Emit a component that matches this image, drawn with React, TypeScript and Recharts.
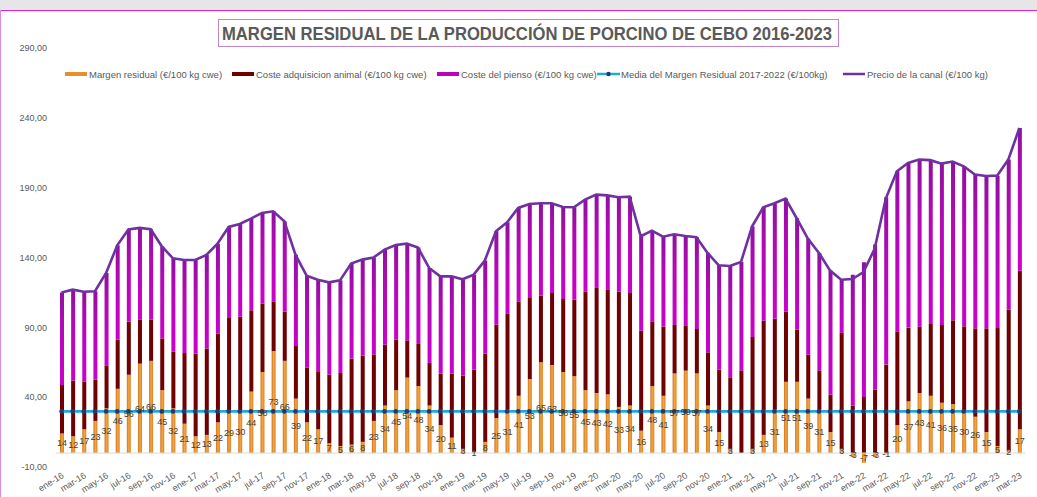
import React from 'react';
import { ComposedChart, Bar, Line, XAxis, YAxis, LabelList, ReferenceLine } from 'recharts';

const meses = [
  'ene-16','feb-16','mar-16','abr-16','may-16','jun-16','jul-16','ago-16','sep-16','oct-16','nov-16','dic-16',
  'ene-17','feb-17','mar-17','abr-17','may-17','jun-17','jul-17','ago-17','sep-17','oct-17','nov-17','dic-17',
  'ene-18','feb-18','mar-18','abr-18','may-18','jun-18','jul-18','ago-18','sep-18','oct-18','nov-18','dic-18',
  'ene-19','feb-19','mar-19','abr-19','may-19','jun-19','jul-19','ago-19','sep-19','oct-19','nov-19','dic-19',
  'ene-20','feb-20','mar-20','abr-20','may-20','jun-20','jul-20','ago-20','sep-20','oct-20','nov-20','dic-20',
  'ene-21','feb-21','mar-21','abr-21','may-21','jun-21','jul-21','ago-21','sep-21','oct-21','nov-21','dic-21',
  'ene-22','feb-22','mar-22','abr-22','may-22','jun-22','jul-22','ago-22','sep-22','oct-22','nov-22','dic-22',
  'ene-23','feb-23','mar-23',
];

const margen = [
  14,12,17,23,32,46,56,64,66,45,
  32,21,12,13,22,29,30,44,58,73,
  66,39,22,17,7,5,6,8,23,34,
  45,54,48,34,20,11,3,1,8,25,
  31,41,53,65,63,58,55,45,43,42,
  33,34,16,48,41,57,59,57,34,15,
  3,0,3,13,31,51,51,39,31,15,
  3,-3,-7,-3,-1,20,37,43,41,36,
  35,30,26,15,5,2,17,
];

const costeAnimal = [
  34.7,39.8,34.3,29.5,30.8,35.2,38.1,31.7,29.5,37.1,
  40.6,50.6,59.1,61.9,63.5,67.7,67.6,58.2,48.9,35.6,
  35.2,37.6,39.3,41.0,49.1,52.3,61.6,61.7,47.6,43.6,
  36.2,26.7,30.1,30.5,36.8,45.8,52.4,58.7,63.1,66.9,
  68.6,67.6,58.0,47.7,51.6,52.3,54.8,70.5,75.2,74.8,
  82.5,80.6,71.6,46.3,49.5,34.7,32.0,31.8,38.1,44.7,
  51.2,59.2,80.1,81.8,65.2,50.2,37.3,31.4,28.2,26.8,
  83.0,33.9,40.1,45.3,63.3,67.1,52.8,47.5,51.4,55.7,
  60.0,60.7,63.3,74.3,84.5,100.7,113.6,
];

const costePienso = [
  66.3,65.2,64.2,63.3,66.1,67.5,65.9,65.5,64.7,65.9,
  66.8,66.6,67.1,66.9,64.4,65.2,66.4,65.6,65.0,64.5,
  64.7,65.4,65.7,66.1,66.1,66.3,68.0,68.8,69.3,68.0,
  67.8,69.2,69.0,68.0,69.7,69.7,69.0,68.0,66.7,66.9,
  65.6,66.9,67.3,66.1,64.2,65.9,66.2,65.9,66.8,67.7,
  67.6,69.0,67.6,64.9,64.4,64.9,64.4,65.7,71.2,74.7,
  79.7,77.6,79.2,81.1,82.6,81.0,79.8,83.1,84.1,88.8,
  38.1,93.7,96.5,104.0,119.9,114.6,117.9,119.6,117.3,115.5,
  113.7,114.6,110.1,109.1,109.1,107.4,102.2,
];

const precioCanal = [
  115.0,117.0,115.5,115.8,128.9,148.7,160.0,161.2,160.2,148.0,
  139.4,138.2,138.2,141.8,149.9,161.9,164.0,167.8,171.9,173.1,
  165.9,142.0,127.0,124.1,122.2,123.6,135.6,138.5,139.9,145.6,
  149.0,149.9,147.1,132.5,126.5,126.5,124.4,127.7,137.8,158.8,
  165.2,175.5,178.3,178.8,178.8,176.2,176.0,181.4,185.0,184.5,
  183.1,183.6,155.2,159.2,154.9,156.6,155.4,154.5,143.3,134.4,
  133.9,136.8,162.3,175.9,178.8,182.2,168.1,153.5,143.3,130.6,
  124.1,124.6,129.6,146.3,182.2,201.7,207.7,210.1,209.7,207.2,
  208.7,205.3,199.4,198.4,198.6,210.1,232.8,
];

const mediaMargen = 29.8;

const yTicks = [-10, 40, 90, 140, 190, 240, 290];

const titulo = 'MARGEN RESIDUAL DE LA PRODUCCIÓN DE PORCINO DE CEBO 2016-2023';

const legendItems = [
  { x: 65, kind: 'rect', color: '#E88F2C', text: 'Margen residual (€/100 kg cwe)' },
  { x: 232, kind: 'rect', color: '#700000', text: 'Coste adquisicion animal (€/100 kg cwe)' },
  { x: 437, kind: 'rect', color: '#BC00BC', text: 'Coste del pienso (€/100 kg cwe)' },
  { x: 597, kind: 'dot', color: '#22A8DC', text: 'Media del Margen Residual 2017-2022  (€/100kg)' },
  { x: 843, kind: 'line', color: '#7030A0', text: 'Precio de la canal (€/100 kg)' },
];

const data = meses.map((mes, i) => ({
  mes,
  margen: margen[i],
  animal: costeAnimal[i],
  pienso: costePienso[i],
  precio: precioCanal[i],
  media: mediaMargen,
}));

const FONT = '"Liberation Sans", Arial, sans-serif';

const XTick = (props: any) => {
  const { x, y, payload } = props;
  return (
    <g transform={`translate(${x + 3},${y + 10})`}>
      <text x={0} y={0} textAnchor="end" transform="rotate(-32)" fontSize={9} fill="#595959" fontFamily={FONT}>
        {payload.value}
      </text>
    </g>
  );
};

const MediaDot = (props: any) => {
  const { cx, cy, index } = props;
  if (cx == null || cy == null) return <g key={`d${index}`} />;
  return <circle key={`d${index}`} cx={cx} cy={cy} r={2.3} fill="#1F3A6E" />;
};

export default function App() {
  return (
    <div style={{ position: 'fixed', left: 0, top: 0, width: 1037, height: 497, background: '#ffffff', overflow: 'hidden' }}>
      <div style={{ position: 'absolute', left: 0, top: 0, width: 1037, height: 10, background: '#E6E6E6' }} />
      <div style={{ position: 'absolute', left: 0, top: 10, width: 1037, height: 1, background: '#E020E0' }} />
      <div style={{ position: 'absolute', left: 0, top: 10, width: 1, height: 487, background: '#D58BE5' }} />
      <div style={{ position: 'absolute', left: 0, top: 0 }}>
        <ComposedChart
          width={1037}
          height={497}
          data={data}
          stackOffset="sign"
          margin={{ top: 48, right: 12, bottom: 0, left: 0 }}
          barSize={4}
        >
          <defs>
            <linearGradient id="gOrange" x1="0" y1="0" x2="1" y2="0">
              <stop offset="0%" stopColor="#D27418" />
              <stop offset="50%" stopColor="#F4A444" />
              <stop offset="100%" stopColor="#DB8220" />
            </linearGradient>
            <linearGradient id="gRed" x1="0" y1="0" x2="1" y2="0">
              <stop offset="0%" stopColor="#660000" />
              <stop offset="50%" stopColor="#780000" />
              <stop offset="100%" stopColor="#660000" />
            </linearGradient>
            <linearGradient id="gMag" x1="0" y1="0" x2="0" y2="1">
              <stop offset="0%" stopColor="#9010A0" />
              <stop offset="35%" stopColor="#B408B8" />
              <stop offset="100%" stopColor="#CC00CC" />
            </linearGradient>
          </defs>
          <XAxis
            dataKey="mes"
            interval={1}
            tickLine={false}
            axisLine={false}
            tickSize={0}
            tickMargin={0}
            height={30}
            tick={<XTick />}
          />
          <YAxis
            domain={[-10, 290]}
            ticks={yTicks}
            interval={0}
            width={56}
            tickLine={false}
            axisLine={false}
            tickSize={0}
            tickMargin={9}
            tick={{ fontSize: 9, fill: '#595959', fontFamily: FONT }}
            tickFormatter={(v: number) => v.toFixed(2).replace('.', ',')}
          />
          <ReferenceLine y={0} stroke="#D9D9D9" strokeWidth={1} />
          <Bar dataKey="margen" stackId="a" fill="url(#gOrange)" isAnimationActive={false}>
            <LabelList dataKey="margen" position="center" fontSize={9} fill="#404040" fontFamily={FONT} />
          </Bar>
          <Bar dataKey="animal" stackId="a" fill="url(#gRed)" isAnimationActive={false} />
          <Bar dataKey="pienso" stackId="a" fill="url(#gMag)" isAnimationActive={false} />
          <Line
            dataKey="media"
            type="linear"
            stroke="#22A8DC"
            strokeWidth={2.8}
            dot={<MediaDot />}
            activeDot={false}
            isAnimationActive={false}
          />
          <Line
            dataKey="precio"
            type="linear"
            stroke="#7030A0"
            strokeWidth={2.6}
            dot={false}
            activeDot={false}
            isAnimationActive={false}
          />
        </ComposedChart>
      </div>
      <svg style={{ position: 'absolute', left: 0, top: 0, pointerEvents: 'none' }} width={1037} height={497}>
        <rect x={218.5} y={19.5} width={620} height={27} fill="#ffffff" stroke="#C086C8" strokeWidth={1} />
        <text
          x={222}
          y={40}
          fontSize={19}
          fontWeight="bold"
          fill="#595959"
          fontFamily={FONT}
          textLength={610}
          lengthAdjust="spacingAndGlyphs"
        >
          {titulo}
        </text>
        {legendItems.map((it) => (
          <g key={it.text}>
            {it.kind === 'rect' && <rect x={it.x} y={72} width={22} height={4} fill={it.color} />}
            {it.kind === 'dot' && (
              <g>
                <line x1={it.x} x2={it.x + 23} y1={74} y2={74} stroke={it.color} strokeWidth={2.5} />
                <circle cx={it.x + 11.5} cy={74} r={2.2} fill="#1F3A6E" />
              </g>
            )}
            {it.kind === 'line' && <line x1={it.x} x2={it.x + 22} y1={74} y2={74} stroke={it.color} strokeWidth={2.5} />}
            <text x={it.x + 24} y={77.5} fontSize={9.5} fill="#595959" fontFamily={FONT}>
              {it.text}
            </text>
          </g>
        ))}
      </svg>
    </div>
  );
}
